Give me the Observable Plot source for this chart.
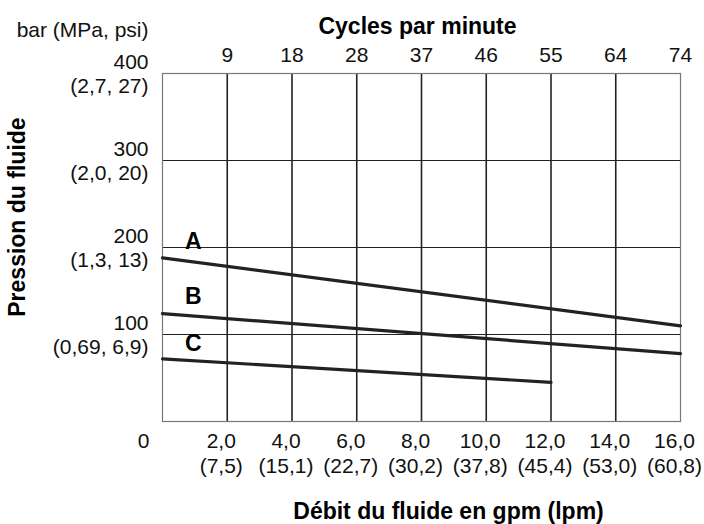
<!DOCTYPE html>
<html>
<head>
<meta charset="utf-8">
<script src="https://cdn.jsdelivr.net/npm/d3@7"></script>
<script src="https://cdn.jsdelivr.net/npm/@observablehq/plot@0.6"></script>
<style>
  html, body { margin: 0; padding: 0; background: #fff; }
  svg { display: block; }
</style>
</head>
<body>
<div id="chart"></div>
<script>
// ---- data ----
const flowTicks = [2, 4, 6, 8, 10, 12, 14, 16];
const flowGpmLabels = ["2,0", "4,0", "6,0", "8,0", "10,0", "12,0", "14,0", "16,0"];
const flowLpmLabels = ["(7,5)", "(15,1)", "(22,7)", "(30,2)", "(37,8)", "(45,4)", "(53,0)", "(60,8)"];
const cyclesLabels = ["9", "18", "28", "37", "46", "55", "64", "74"];
const pressureTicks = [100, 200, 300, 400];
const pressureBarLabels = ["100", "200", "300", "400"];
const pressureOtherLabels = ["(0,69, 6,9)", "(1,3, 13)", "(2,0, 20)", "(2,7, 27)"];
const seriesNames = ["A", "B", "C"];
const seriesFlow = [[0, 16], [0, 16], [0, 12]];
const seriesPressure = [[188, 110], [124, 78], [72, 45]];
const seriesLabelPressure = [207, 143, 90];

// build tables
const lineData = seriesNames.flatMap((s, i) =>
  seriesFlow[i].map((f, j) => ({series: s, flow: f, pressure: seriesPressure[i][j]})));
const labelData = seriesNames.map((s, i) => ({series: s, flow: 0.95, pressure: seriesLabelPressure[i]}));
const xTickData = flowTicks.map((t, i) => ({t, gpm: flowGpmLabels[i], lpm: flowLpmLabels[i], cyc: cyclesLabels[i]}));
const yTickData = pressureTicks.map((t, i) => ({t, bar: pressureBarLabels[i], other: pressureOtherLabels[i]}));

const font = "Liberation Sans, Arial, Helvetica, sans-serif";
const ink = "#222";
const tickSize = 21;
const titleSize = 23;

const chart = Plot.plot({
  width: 704,
  height: 524,
  marginLeft: 162,
  marginRight: 24,
  marginTop: 73,
  marginBottom: 103,
  style: {fontFamily: font, background: "#fff", overflow: "visible"},
  x: {domain: [0, 16], axis: null},
  y: {domain: [0, 400], axis: null},
  marks: [
    // inner grid
    Plot.ruleY(pressureTicks.filter(t => t < 400), {y: d => d, stroke: ink, strokeWidth: 1.2}),
    Plot.ruleX(flowTicks.filter(t => t < 16), {x: d => d, stroke: ink, strokeWidth: 1.6}),
    Plot.frame({stroke: "#777", strokeWidth: 1.2}),
    // curves
    Plot.line(lineData, {x: "flow", y: "pressure", z: "series", stroke: ink, strokeWidth: 3.2}),
    Plot.text(labelData, {x: "flow", y: "pressure", text: "series", fontSize: 23, fontWeight: "bold", fill: "#000"}),
    // bottom axis labels
    Plot.text(xTickData, {x: "t", y: 0, text: "gpm", dx: -6, dy: 20, fontSize: tickSize, fill: "#111"}),
    Plot.text(xTickData, {x: "t", y: 0, text: "lpm", dx: -6, dy: 45, fontSize: tickSize, fill: "#111"}),
    Plot.text(["0"], {x: 0, y: 0, text: d => d, dx: -19, dy: 20, fontSize: tickSize, fill: "#111"}),
    // top axis labels
    Plot.text(xTickData, {x: "t", y: 400, text: "cyc", dy: -18, fontSize: tickSize, fill: "#111"}),
    // left axis labels
    Plot.text(yTickData, {x: 0, y: "t", text: "bar", dx: -14, dy: -11, textAnchor: "end", fontSize: tickSize, fill: "#111"}),
    Plot.text(yTickData, {x: 0, y: "t", text: "other", dx: -14, dy: 13, textAnchor: "end", fontSize: tickSize, fill: "#111"}),
    // titles
    Plot.text(["Cycles par minute"], {x: 8, y: 400, text: d => d, dx: -4, dy: -47, fontSize: titleSize, fontWeight: "bold", fill: "#000"}),
    Plot.text(["bar (MPa, psi)"], {x: 0, y: 400, text: d => d, dx: -14, dy: -43, textAnchor: "end", fontSize: tickSize, fill: "#111"}),
    Plot.text(["Débit du fluide en gpm (lpm)"], {x: 8, y: 0, text: d => d, dx: 27, dy: 90, fontSize: titleSize, fontWeight: "bold", fill: "#000"}),
    Plot.text(["Pression du fluide"], {x: 0, y: 235, text: d => d, dx: -145, rotate: -90, fontSize: titleSize, fontWeight: "bold", fill: "#000"})
  ]
});
document.getElementById("chart").appendChild(chart);
</script>
</body>
</html>
